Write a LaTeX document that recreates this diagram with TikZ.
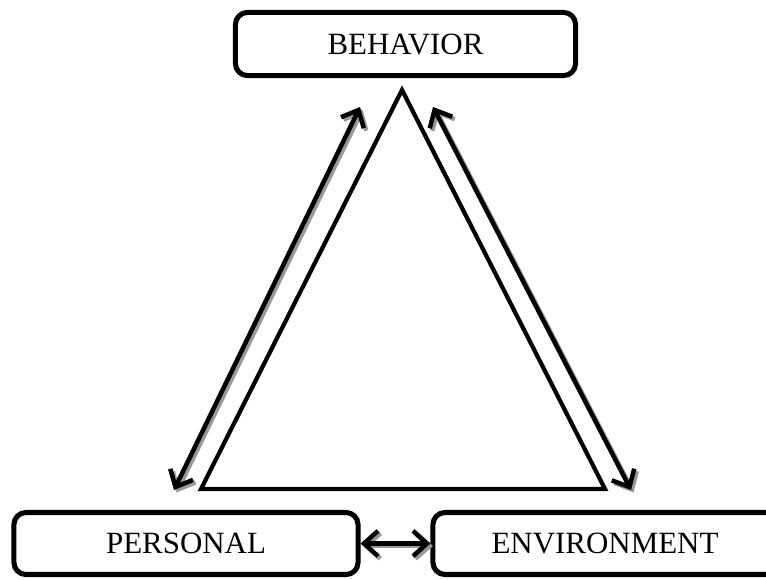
\documentclass[tikz,border=0pt]{standalone}
\usepackage{fontspec}
\setmainfont{Liberation Serif}
\usetikzlibrary{arrows.meta}

\tikzset{
  box/.style={draw, line width=3.6pt, rounded corners=0.3cm, inner sep=0pt,
    font=\fontsize{22}{26}\selectfont},
  link/.style={line width=3.2pt,
    {Straight Barb[length=10pt,width=18pt]}-{Straight Barb[length=10pt,width=18pt]}},
  linkshadow/.style={link, draw=black!40},
}

\begin{document}
\begin{tikzpicture}[x=0.025cm, y=-0.025cm]
        \clip (0,0) rectangle (766,579);

        % boxes
        \node[box, minimum width=8.5cm, minimum height=1.58cm] (behavior) at (405.5,44) {BEHAVIOR};
        \node[box, minimum width=8.6cm, minimum height=1.55cm] (personal) at (186,543.5) {PERSONAL};
        \node[box, minimum width=8.6cm, minimum height=1.55cm] (environment) at (605,543.5) {ENVIRONMENT};

        % triangle
        \draw[line width=3pt] (402,90) -- (201,489) -- (605,489) -- cycle;

        % arrow ends
        \coordinate (bl) at (360,107);
        \coordinate (pb) at (174,490);
        \coordinate (br) at (433,107);
        \coordinate (eb) at (631,490);

        % shadow
        \draw[linkshadow] ([shift={(2.5,2.5)}]bl) -- ([shift={(2.5,2.5)}]pb);
        \draw[linkshadow] ([shift={(2.5,2.5)}]br) -- ([shift={(2.5,2.5)}]eb);
        \draw[linkshadow] ([shift={(2.5,2.5)}]personal.east) -- ([shift={(2.5,2.5)}]environment.west);

        % arrows
        \draw[link] (bl) -- (pb);
        \draw[link] (br) -- (eb);
        \draw[link] (personal.east) -- (environment.west);
\end{tikzpicture}
\end{document}
